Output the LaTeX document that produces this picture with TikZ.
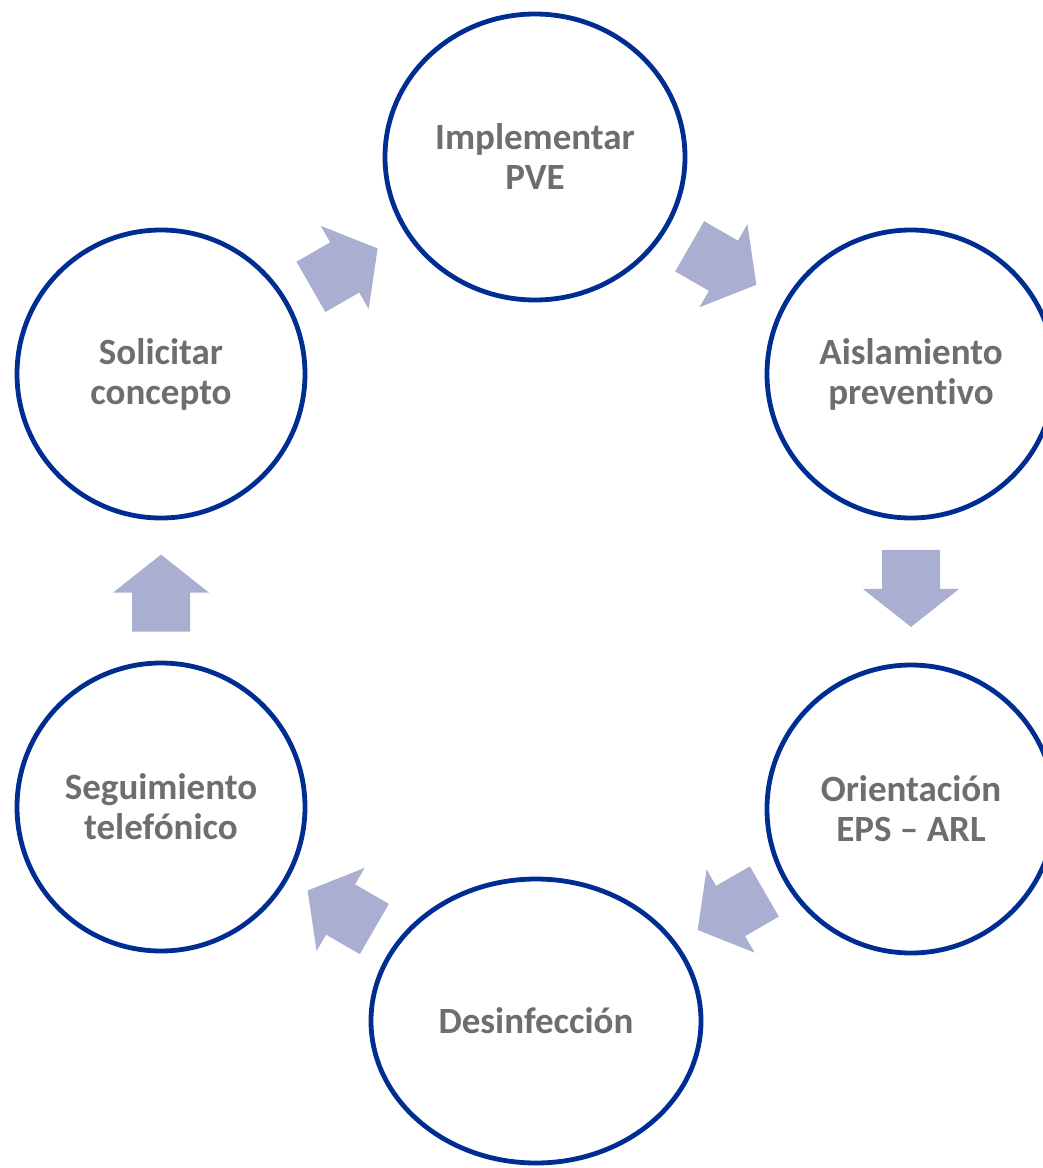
\documentclass[tikz,border=0pt]{standalone}
\usepackage{fontspec}
\setmainfont{Carlito}[Ligatures={NoCommon,NoContextual},RawFeature={-calt}]
\usepackage{tikz}
\usetikzlibrary{shapes,positioning,calc}

\definecolor{aro}{RGB}{0,45,145}
\definecolor{flechagris}{RGB}{170,174,208}
\definecolor{textogris}{RGB}{110,110,110}

% block arrow between two steps (optional: where on the way)
\newcommand{\flecha}[4][0.5]{%
  \fill[flechagris, shift={($(#2)!#1!(#3)$)}, rotate=#4]
    (-38.5,-29) -- (0.5,-29) -- (0.5,-48) -- (38.5,0) -- (0.5,48) -- (0.5,29) -- (-38.5,29) -- cycle;
}

\begin{document}
\begin{tikzpicture}[x=0.5pt, y=-0.5pt,
    paso/.style={ellipse, draw=aro, line width=2.4pt, fill=white, inner sep=0pt,
      minimum width=144pt, minimum height=144pt, text=textogris, align=center,
      font=\fontsize{18.5}{20}\selectfont\bfseries}]
  \useasboundingbox (0,0) rectangle (1043,1168);

  \node[paso, minimum width=150pt, minimum height=143pt] (pve) at (535,157) {Implementar\\PVE};
  \node[paso] (aisla) at (911,374) {Aislamiento\\preventivo};
  \node[paso] (orienta) at (911,809) {Orientación\\EPS – ARL};
  \node[paso, minimum width=165pt, minimum height=142pt] (desinf) at (536,1021) {Desinfección};
  \node[paso] (segui) at (161,807) {Seguimiento\\telefónico};
  \node[paso] (solicita) at (161,374) {Solicitar\\concepto};

  % arrows around the cycle
  \flecha[0.49]{solicita}{pve}{30}
  \flecha{pve}{aisla}{-30}
  \flecha[0.493]{aisla}{orienta}{-90}
  \flecha[0.48]{orienta}{desinf}{-150}
  \flecha[0.52]{desinf}{segui}{150}
  \flecha[0.494]{segui}{solicita}{90}
\end{tikzpicture}
\end{document}
